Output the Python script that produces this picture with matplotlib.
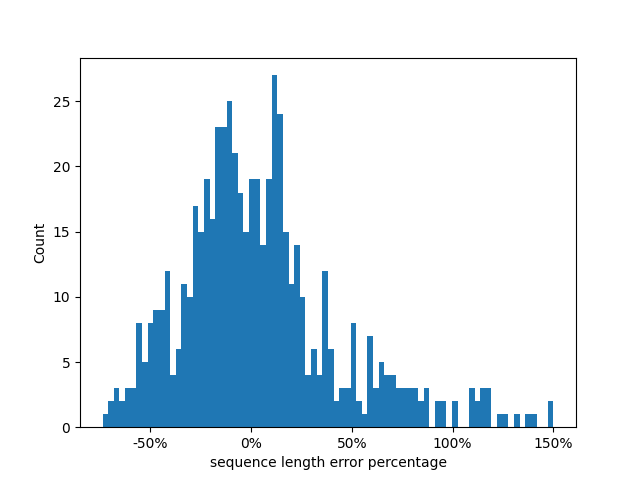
import matplotlib
matplotlib.use("Agg")
import matplotlib.pyplot as plt
from matplotlib.ticker import FuncFormatter
import numpy as np

# histogram counts, 80 bins from about -73.7% to 150%
counts = [1, 2, 3, 2, 3, 3, 8, 5, 8, 9,
          9, 12, 4, 6, 11, 10, 17, 15, 19, 16,
          23, 23, 25, 21, 18, 15, 19, 19, 14, 19,
          27, 24, 15, 11, 14, 10, 4, 6, 4, 12,
          6, 2, 3, 3, 8, 2, 1, 7, 3, 5,
          4, 4, 3, 3, 3, 3, 2, 3, 0, 2,
          2, 0, 2, 0, 0, 3, 2, 3, 3, 0,
          1, 1, 0, 1, 0, 1, 1, 0, 0, 2]
err_min = -73.7
err_max = 150.0

edges = np.linspace(err_min, err_max, len(counts) + 1)
centers = (edges[:-1] + edges[1:]) / 2

fig, ax = plt.subplots(figsize=(6.4, 4.8), dpi=100)
ax.hist(centers, bins=edges, weights=counts, color="#1f77b4")
ax.xaxis.set_major_formatter(FuncFormatter(lambda x, pos: "{:.0f}%".format(x)))
ax.set_xlabel("sequence length error percentage")
ax.set_ylabel("Count")
fig.savefig("out.png")
